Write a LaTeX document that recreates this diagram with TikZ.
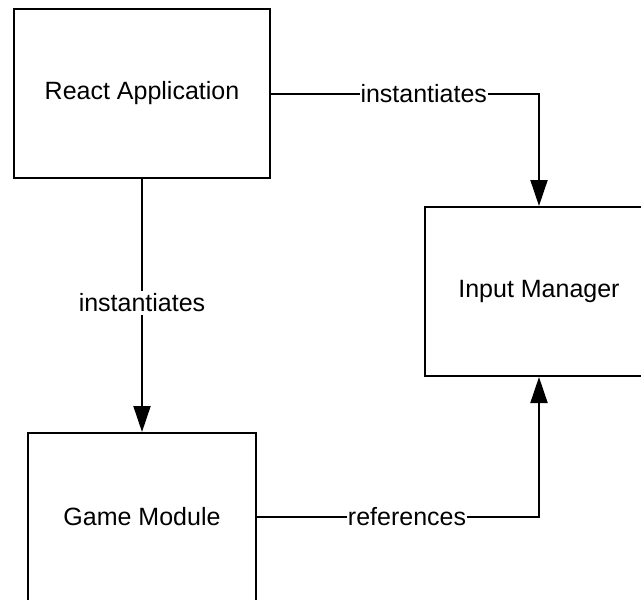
\documentclass[tikz,border=0pt]{standalone}
\usepackage{fontspec}
\setmainfont{Liberation Sans}
\usetikzlibrary{arrows.meta}
\begin{document}
\begin{tikzpicture}[x=1pt,y=-1pt,
  box/.style={draw=black, line width=2pt, fill=white, inner sep=0pt, font=\fontsize{25}{30}\selectfont},
  conn/.style={draw=black, line width=2pt, -{Triangle[length=26pt,width=17pt]}},
  lbl/.style={fill=white, inner xsep=1pt, inner ysep=3pt, font=\fontsize{25}{30}\selectfont}]
  \useasboundingbox (0,0) rectangle (641,600);
  \clip (0,0) rectangle (641,600);
  \fill[white] (0,0) rectangle (641,600);
  \node[box, minimum width=256pt, minimum height=169pt] (react) at (142,93.5) {React Application};
  \node[box, minimum width=228pt, minimum height=169pt] (input) at (539,291.5) {Input Manager};
  \node[box, minimum width=228pt, minimum height=168pt] (game) at (142,517) {Game Module};
  \draw[conn] (react.east) -| node[lbl, pos=0.285] {instantiates} (input.north);
  \draw[conn] (react.south) -- node[lbl, pos=0.49] {instantiates} (game.north);
  \draw[conn] (game.east) -| node[lbl, pos=0.266] {references} (input.south);
\end{tikzpicture}
\end{document}
